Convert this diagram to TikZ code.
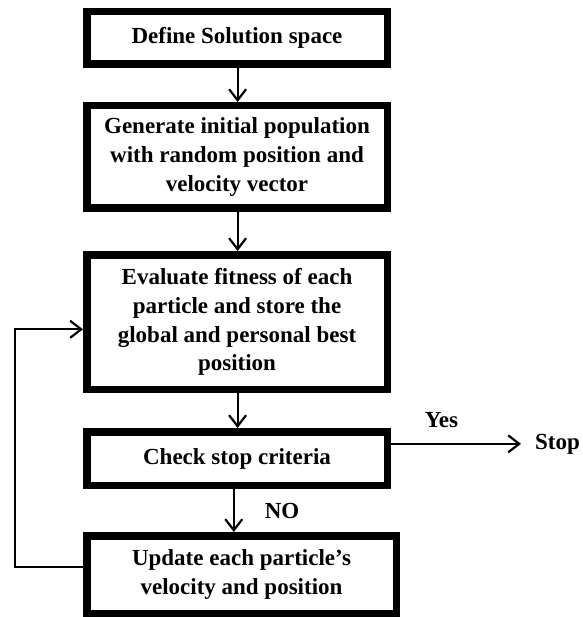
\documentclass[tikz,border=0pt]{standalone}
\usepackage{fontspec}
\setmainfont{Liberation Serif}
\usetikzlibrary{arrows.meta}
\begin{document}
\begin{tikzpicture}[x=1pt,y=-1pt,
  box/.style={draw=black, line width=7.5pt, fill=white, inner sep=0pt,
    align=center, minimum width=300.5pt,
    font=\fontsize{23}{28.7}\selectfont\bfseries},
  lbl/.style={inner sep=0pt, font=\fontsize{23}{28.7}\selectfont\bfseries},
  conn/.style={draw=black, line width=2.2pt,
    -{Straight Barb[length=11pt,width=17pt]}}
]
\useasboundingbox (0,0) rectangle (582,617);

\node[box, minimum height=52.5pt] (b1) at (237,38) {Define Solution space};
\node[box, minimum height=102.5pt] (b2) at (237,157)
  {Generate initial population\\with random position and\\velocity vector};
\node[box, minimum height=134.5pt] (b3) at (237,322)
  {Evaluate fitness of each\\particle and store the\\global and personal best\\position};
\node[box, minimum height=53.5pt] (b4) at (237,458.5) {Check stop criteria};
\node[box, minimum width=309.5pt, minimum height=77.5pt] (b5) at (241.5,574.5)
  {Update each particle’s\\velocity and position};

\node[lbl, inner xsep=14pt, anchor=base west] (stop) at (521,449) {Stop};
\node[lbl, anchor=base] (yes) at (441.5,427) {Yes};
\node[lbl, anchor=base] (no) at (282,518.3) {NO};

\coordinate (fbA) at (14.7,566.7);
\coordinate (fbB) at (14.7,329.3);

\draw[conn] ([xshift=0.6pt]b1.south) -- ([xshift=0.6pt]b2.north);
\draw[conn] ([xshift=0.6pt]b2.south) -- ([xshift=0.6pt]b3.north);
\draw[conn] ([xshift=0.6pt]b3.south) -- ([xshift=0.6pt]b4.north);
\draw[conn] ([xshift=-3.2pt]b4.south) -- ([xshift=-3.2pt]b4.south |- b5.north);
\draw[conn] (b4.east |- stop.west) -- (stop.west);
\draw[conn] (b5.west |- fbA) -- (fbA) -- (fbB) -- (b3.west |- fbB);
\end{tikzpicture}
\end{document}
